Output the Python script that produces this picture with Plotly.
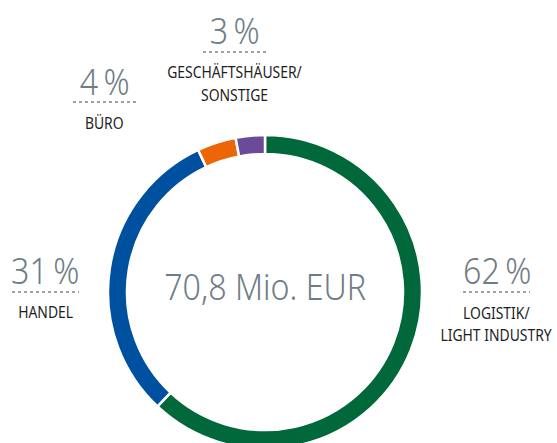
import plotly.graph_objects as go

# ---- data ----
categories = ["LOGISTIK/<br>LIGHT INDUSTRY", "HANDEL", "BÜRO", "GESCHÄFTSHÄUSER/<br>SONSTIGE"]
values = [62, 31, 4, 3]
colors = ["#00683a", "#0050a0", "#ec6608", "#6c4a9a"]
total_label = "70,8 Mio. EUR"

# figure slightly taller than the 443px window: the ring's bottom is cut off as in the original
W, H = 557, 452
def px(x):
    return x / W
def py(y):
    return 1 - y / H

FAM = "Noto Sans, DejaVu Sans Condensed, sans-serif"
PCT_FONT = dict(family=FAM, size=37, color="#6f7d87", weight=300)
LBL_FONT = dict(family=FAM, size=16, color="#1e1e1e")

fig = go.Figure(go.Pie(
    labels=categories,
    values=values,
    marker=dict(colors=colors, line=dict(color="white", width=2.5)),
    hole=0.879,
    sort=False,
    direction="clockwise",
    rotation=0,
    textinfo="none",
    hoverinfo="label+percent",
    domain=dict(x=[px(108), px(422)], y=[py(449), py(135)]),
))

label_layout = [
    (497, 269, 463, 530, 292, [("LOGISTIK/", 496, 313), ("LIGHT INDUSTRY", 496, 335)]),
    (45, 269, 12, 79, 292, [("HANDEL", 45, 312)]),
    (104, 80, 73, 136, 102, [("BÜRO", 104, 123)]),
    (234, 29, 203, 266, 52, [("GESCHÄFTSHÄUSER/", 234, 72), ("SONSTIGE", 234, 95)]),
]

annotations = []
shapes = []
for v, (cx, cy, x0, x1, ly, lines) in zip(values, label_layout):
    annotations.append(dict(text=f"{v}\u2009%", x=px(cx), y=py(cy), xref="paper", yref="paper",
                            showarrow=False, font=PCT_FONT, xanchor="center", yanchor="middle"))
    shapes.append(dict(type="line", xref="paper", yref="paper", x0=px(x0), x1=px(x1),
                       y0=py(ly), y1=py(ly), line=dict(color="#444444", width=1, dash="dot")))
    for t, tx, tyy in lines:
        annotations.append(dict(text=t, x=px(tx), y=py(tyy), xref="paper", yref="paper",
                                showarrow=False, font=LBL_FONT, xanchor="center", yanchor="middle"))

annotations.append(dict(text=total_label, x=px(265), y=py(285), xref="paper", yref="paper",
                        showarrow=False, font=PCT_FONT, xanchor="center", yanchor="middle"))

fig.update_layout(
    width=W, height=H,
    margin=dict(l=0, r=0, t=0, b=0),
    paper_bgcolor="white", plot_bgcolor="white",
    showlegend=False,
    annotations=annotations,
    shapes=shapes,
)

# remove page margin; narrow the text horizontally to imitate the condensed typeface
post = """
var s = document.createElement('style');
s.textContent = 'html,body{margin:0;padding:0;overflow:hidden;}' +
  '.annotation-text{transform-box:fill-box;transform-origin:center;transform:scaleX(0.87);}';
document.head.appendChild(s);
"""
fig.write_html("out.html", config={"displayModeBar": False}, post_script=post)
